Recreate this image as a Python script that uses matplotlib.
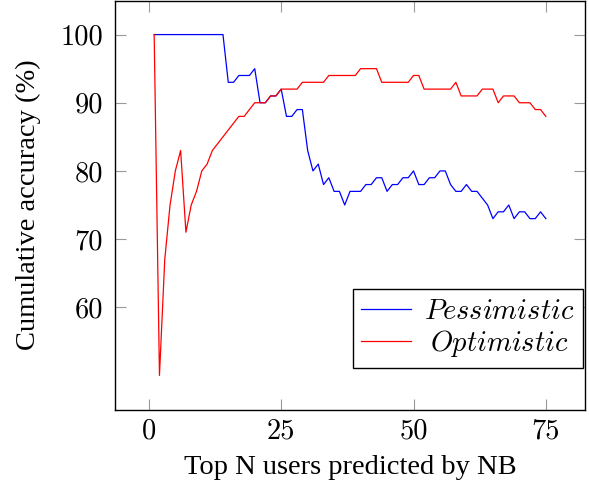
import matplotlib
matplotlib.use('Agg')
import matplotlib.pyplot as plt

plt.rcParams['mathtext.fontset'] = 'cm'

top_n = [1, 2, 3, 4, 5, 6, 7, 8, 9, 10, 11, 12, 13, 14, 15, 16, 17, 18, 19, 20,
         21, 22, 23, 24, 25, 26, 27, 28, 29, 30, 31, 32, 33, 34, 35, 36, 37, 38, 39, 40,
         41, 42, 43, 44, 45, 46, 47, 48, 49, 50, 51, 52, 53, 54, 55, 56, 57, 58, 59, 60,
         61, 62, 63, 64, 65, 66, 67, 68, 69, 70, 71, 72, 73, 74, 75]

pessimistic = [100, 100, 100, 100, 100, 100, 100, 100, 100, 100, 100, 100, 100, 100,
               93, 93, 94, 94, 94, 95, 90, 90, 91, 91, 92, 88, 88, 89, 89, 83,
               80, 81, 78, 79, 77, 77, 75, 77, 77, 77, 78, 78, 79, 79, 77, 78,
               78, 79, 79, 80, 78, 78, 79, 79, 80, 80, 78, 77, 77, 78, 77, 77,
               76, 75, 73, 74, 74, 75, 73, 74, 74, 73, 73, 74, 73]

optimistic = [100, 50, 67, 75, 80, 83, 71, 75, 77, 80, 81, 83, 84, 85, 86, 87, 88, 88,
              89, 90, 90, 90, 91, 91, 92, 92, 92, 92, 93, 93, 93, 93, 93, 94, 94, 94,
              94, 94, 94, 95, 95, 95, 95, 93, 93, 93, 93, 93, 93, 94, 94, 92, 92, 92,
              92, 92, 92, 93, 91, 91, 91, 91, 92, 92, 92, 90, 91, 91, 91, 90, 90, 90,
              89, 89, 88]

series_labels = ['$Pessimistic$', '$Optimistic$']
x_ticks = [0, 25, 50, 75]
y_ticks = [60, 70, 80, 90, 100]
x_label = 'Top N users predicted by NB'
y_label = 'Cumulative accuracy (%)'

W, H = 589, 488
fig = plt.figure(figsize=(W / 100, H / 100), dpi=100)
ax = fig.add_axes([115 / W, 1 - 409.5 / H, 470 / W, 409 / H])

ax.plot(top_n, pessimistic, color='#0000ff', lw=0.9, label=series_labels[0])
ax.plot(top_n, optimistic, color='#ff0000', lw=0.9, label=series_labels[1])

ax.set_xlim(-6.4, 82.4)
ax.set_ylim(45, 105)
ax.set_xticks(x_ticks)
ax.set_yticks(y_ticks)
ax.set_xticklabels([str(t) for t in x_ticks], fontfamily='cmr10', fontsize=20.5)
ax.set_yticklabels([str(t) for t in y_ticks], fontfamily='cmr10', fontsize=20.5)
ax.tick_params(axis='both', direction='in', length=8, width=0.8, color='#999999',
               top=True, right=True)
ax.tick_params(axis='y', pad=8.5)
ax.tick_params(axis='x', pad=6)
for s in ax.spines.values():
    s.set_linewidth(1.0)
    s.set_color('black')

ax.set_xlabel(x_label, fontfamily='Liberation Serif', fontsize=20.5)
ax.set_ylabel(y_label, fontfamily='Liberation Serif', fontsize=20.5)
ax.xaxis.set_label_coords(0.5, -0.112)
ax.yaxis.set_label_coords(-0.157, 0.5)

leg = ax.legend(loc='lower right', bbox_to_anchor=(0.995, 0.102), borderaxespad=0,
                fancybox=False, framealpha=1, edgecolor='black',
                prop={'size': 20.5}, handlelength=1.75, handletextpad=0.45,
                borderpad=0.3, labelspacing=0.1)
leg.get_frame().set_linewidth(1.0)

fig.canvas.draw()
texts = leg.get_texts()
widths = [t.get_window_extent().width for t in texts]
wmax = max(widths)
for t, w in zip(texts, widths):
    t.set_x((wmax - w) / 2)

fig.savefig('out.png', dpi=100)
